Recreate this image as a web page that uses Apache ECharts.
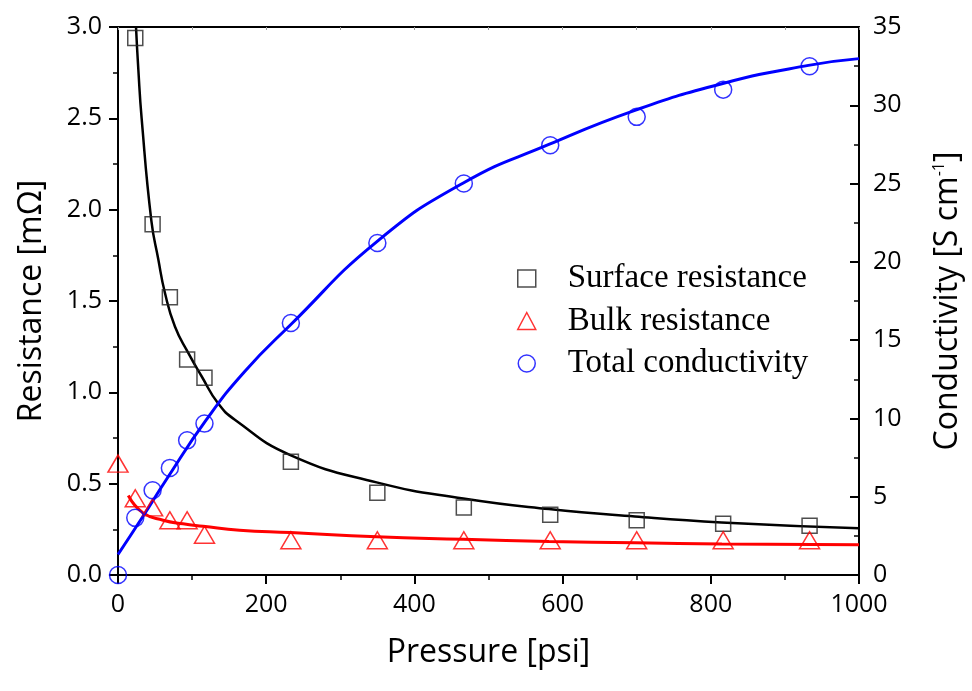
<!DOCTYPE html>
<html>
<head>
<meta charset="utf-8">
<script src="https://cdn.jsdelivr.net/npm/echarts@6.0.0/dist/echarts.min.js"></script>
<style>html,body{margin:0;padding:0;background:#fff;}#c{width:972px;height:691px;}</style>
</head>
<body>
<div id="c"></div>
<script>
// Measured data points (x = pressure in psi)
const pressure = [0, 23.3, 46.7, 70, 93.3, 116.7, 233.3, 350, 466.7, 583.3, 700, 816.7, 933.3];
const surfaceResistance = [null, 2.94, 1.92, 1.52, 1.18, 1.08, 0.62, 0.45, 0.37, 0.33, 0.30, 0.28, 0.27];
const bulkResistance = [0.61, 0.42, 0.37, 0.30, 0.30, 0.22, 0.19, 0.19, 0.19, 0.19, 0.19, 0.19, 0.19];
const totalConductivity = [0, 3.65, 5.41, 6.84, 8.6, 9.67, 16.09, 21.2, 25.0, 27.45, 29.26, 31.0, 32.49];

// Fit curves
const surfaceFitX = [24.3, 27.4, 31.9, 45, 54.3, 63.3, 76.8, 94.8, 112.8, 135, 157.7, 231.8, 349, 466, 581.5, 697.6, 814.6, 1000];
const surfaceFitY = [3.0, 2.77, 2.50, 1.94, 1.73, 1.545, 1.36, 1.216, 1.088, 0.94, 0.85, 0.658, 0.507, 0.419, 0.361, 0.32, 0.288, 0.256];
const bulkFitX = [13.9, 33.8, 60.8, 87.8, 114.7, 164, 233, 349, 466, 581.5, 697.6, 815, 1000];
const bulkFitY = [0.435, 0.34, 0.30, 0.28, 0.267, 0.245, 0.232, 0.209, 0.196, 0.184, 0.176, 0.170, 0.165];
const condFitX = [0, 33.8, 65.3, 119.3, 171, 233.3, 349, 466, 581.5, 697.6, 815, 931.7, 1000];
const condFitY = [1.31, 3.75, 6.1, 9.92, 13.0, 16.0, 21.28, 25.04, 27.5, 29.68, 31.38, 32.55, 32.98];

// Axis ticks
const xTicks = {min: 0, max: 1000, interval: 200};
const yLeftTicks = {min: 0, max: 3, interval: 0.5};
const yRightTicks = {min: 0, max: 35, interval: 5};

const seriesNames = ['Surface resistance', 'Bulk resistance', 'Total conductivity'];

function pairs(xs, ys) { return xs.map((x, i) => [x, ys[i]]).filter(p => p[1] !== null); }

const chart = echarts.init(document.getElementById('c'), null, {renderer: 'canvas'});
const tickFont = {fontFamily: 'Open Sans', fontSize: 25, color: '#000'};
const titleFont = {fontFamily: 'Open Sans', fontSize: 32, color: '#000'};

chart.setOption({
  backgroundColor: '#fff',
  animation: false,
  grid: {left: 118, right: 112, top: 27, bottom: 116, containLabel: false},
  legend: {
    orient: 'vertical', left: 512, top: 257,
    itemWidth: 18, itemHeight: 17, itemGap: 9.5,
    textStyle: {fontFamily: 'Liberation Serif', fontSize: 33, color: '#000', lineHeight: 33, padding: [0, 0, 0, 27]},
    data: [
      {name: seriesNames[0], icon: 'rect', itemStyle: {color: 'rgba(0,0,0,0)', borderColor: '#222', borderWidth: 1.5}},
      {name: seriesNames[1], icon: 'triangle', itemStyle: {color: 'rgba(0,0,0,0)', borderColor: '#ff0000', borderWidth: 1.5}},
      {name: seriesNames[2], icon: 'circle', itemStyle: {color: 'rgba(0,0,0,0)', borderColor: '#0000ff', borderWidth: 1.5}}
    ]
  },
  xAxis: [{
    type: 'value', position: 'bottom', min: xTicks.min, max: xTicks.max, interval: xTicks.interval,
    name: 'Pressure [psi]', nameLocation: 'middle', nameGap: 62, nameTextStyle: titleFont,
    axisLine: {show: true, onZero: false, lineStyle: {color: '#000', width: 2}},
    axisTick: {show: true, inside: false, length: 9, lineStyle: {color: '#000', width: 2}},
    minorTick: {show: true, splitNumber: 2, length: 5, lineStyle: {color: '#000', width: 1.5}},
    axisLabel: Object.assign({margin: 17, formatter: v => String(v)}, tickFont),
    splitLine: {show: false}
  }, {
    type: 'value', position: 'top', min: xTicks.min, max: xTicks.max, interval: 100,
    axisLine: {show: true, onZero: false, lineStyle: {color: '#000', width: 2}},
    axisTick: {show: true, inside: true, length: 3, lineStyle: {color: '#999', width: 1}},
    axisLabel: {show: false}, splitLine: {show: false}
  }],
  yAxis: [{
    type: 'value', position: 'left', min: yLeftTicks.min, max: yLeftTicks.max, interval: yLeftTicks.interval,
    name: 'Resistance [mΩ]', nameLocation: 'middle', nameGap: 70, nameRotate: 90, nameTextStyle: titleFont,
    axisLine: {show: true, onZero: false, lineStyle: {color: '#000', width: 2}},
    axisTick: {show: true, inside: false, length: 9, lineStyle: {color: '#000', width: 2}},
    minorTick: {show: true, splitNumber: 2, length: 5, lineStyle: {color: '#000', width: 1.5}},
    axisLabel: Object.assign({margin: 16, formatter: v => v.toFixed(1)}, tickFont),
    splitLine: {show: false}
  }, {
    type: 'value', position: 'right', min: yRightTicks.min, max: yRightTicks.max, interval: yRightTicks.interval,
    name: 'Conductivity [S cm{sup|-1}]', nameLocation: 'middle', nameGap: 72, nameRotate: 90,
    nameTextStyle: Object.assign({rich: {sup: {fontFamily: 'Open Sans', fontSize: 16, color: '#000', verticalAlign: 'top', padding: [0, 0, 18, 0]}}}, titleFont),
    axisLine: {show: true, onZero: false, lineStyle: {color: '#000', width: 2}},
    axisTick: {show: true, inside: true, length: 9, lineStyle: {color: '#000', width: 2}},
    minorTick: {show: true, splitNumber: 2, length: 5, lineStyle: {color: '#000', width: 1.5}},
    axisLabel: Object.assign({margin: 14}, tickFont),
    splitLine: {show: false}
  }],
  series: [
    {type: 'line', name: 'surfaceFit', xAxisIndex: 0, yAxisIndex: 0, data: pairs(surfaceFitX, surfaceFitY),
     showSymbol: false, smooth: 0.5, lineStyle: {color: '#000', width: 2.5}, z: 2, silent: true},
    {type: 'line', name: 'bulkFit', xAxisIndex: 0, yAxisIndex: 0, data: pairs(bulkFitX, bulkFitY),
     showSymbol: false, smooth: 0.5, lineStyle: {color: '#ff0000', width: 3}, z: 2, silent: true},
    {type: 'line', name: 'condFit', xAxisIndex: 0, yAxisIndex: 1, data: pairs(condFitX, condFitY),
     showSymbol: false, smooth: 0.5, lineStyle: {color: '#0000ff', width: 3}, z: 2, silent: true},
    {type: 'scatter', name: seriesNames[0], xAxisIndex: 0, yAxisIndex: 0, data: pairs(pressure, surfaceResistance),
     symbol: 'rect', symbolSize: 15, itemStyle: {color: 'rgba(0,0,0,0)', borderColor: '#222', borderWidth: 1.5}, z: 3},
    {type: 'scatter', name: seriesNames[1], xAxisIndex: 0, yAxisIndex: 0, data: pairs(pressure, bulkResistance),
     symbol: 'triangle', symbolSize: [20, 17], itemStyle: {color: 'rgba(0,0,0,0)', borderColor: '#ff0000', borderWidth: 1.5}, z: 3},
    {type: 'scatter', name: seriesNames[2], xAxisIndex: 0, yAxisIndex: 1, data: pairs(pressure, totalConductivity),
     symbol: 'circle', symbolSize: 17, itemStyle: {color: 'rgba(0,0,0,0)', borderColor: '#0000ff', borderWidth: 1.5}, z: 3}
  ]
});
</script>
</body>
</html>
